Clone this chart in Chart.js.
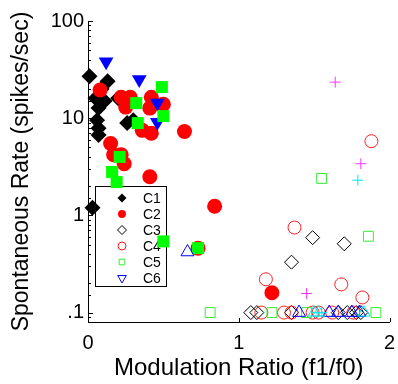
<!DOCTYPE html>
<html>
<head>
<meta charset="utf-8">
<script src="https://cdn.jsdelivr.net/npm/chart.js@4"></script>
<style>
  html, body { margin: 0; padding: 0; background: #fff; }
</style>
</head>
<body>
<canvas id="chart-1" width="398" height="384"></canvas>
<script>
// values (zeros were plotted at .1)
const c1X = [0.01, 0.13, 0.09, 0.05, 0.11, 0.20, 0.07, 0.06, 0.07, 0.07, 0.26, 0.30, 0.03];
const c1Y = [27, 24, 20, 16, 15, 16, 12.7, 9.5, 7.9, 6.7, 8.9, 9.5, 1.2];

const c2X = [0.08, 0.22, 0.25, 0.28, 0.42, 0.41, 0.50, 0.36, 0.42, 0.64, 0.15, 0.17, 0.22, 0.24, 0.41, 0.84, 1.22, 0.73];
const c2Y = [19.5, 16.4, 13, 16.4, 16.4, 12.7, 13.9, 7.5, 7.0, 7.3, 5.5, 4.2, 4.2, 3.4, 2.5, 1.24, 0.16, 0.46];

const c3X = [1.35, 1.49, 1.70, 1.08, 1.12, 1.35, 1.66, 1.72, 1.78, 1.81];
const c3Y = [0.33, 0.59, 0.51, 0.1, 0.1, 0.1, 0.1, 0.1, 0.1, 0.1];

const c4X = [1.18, 1.68, 1.82, 1.37, 1.88, 1.15, 1.30, 1.35, 1.49, 1.53, 1.62, 1.76];
const c4Y = [0.22, 0.195, 0.143, 0.75, 5.8, 0.1, 0.1, 0.1, 0.1, 0.1, 0.1, 0.1];

const c5X = [1.55, 1.86, 0.81, 1.22, 1.45, 1.91];
const c5Y = [2.4, 0.61, 0.1, 0.1, 0.1, 0.1];

const c6X = [];
const c6Y = [];

// extra marker groups that are not in the legend
const greenFillX = [0.49, 0.32, 0.50, 0.33, 0.21, 0.16, 0.19, 0.50, 0.73];
const greenFillY = [20.9, 14.3, 10.5, 8.9, 4.0, 2.8, 2.2, 0.54, 0.46];

const blueFillX = [0.12, 0.34, 0.46, 0.46];
const blueFillY = [38, 25, 14.3, 9.1];

const blueUpX = [0.66, 1.40, 1.60, 1.66, 1.75, 1.80];
const blueUpY = [0.42, 0.1, 0.1, 0.1, 0.1, 0.1];

const magentaX = [1.64, 1.81, 1.45];
const magentaY = [23.5, 3.4, 0.157];

const cyanPlusX = [1.79, 1.52, 1.55];
const cyanPlusY = [2.3, 0.1, 0.1];

const cyanUpX = [1.50, 1.53, 1.83];
const cyanUpY = [0.1, 0.1, 0.1];

const legendLabels = ['C1', 'C2', 'C3', 'C4', 'C5', 'C6'];
const xTickValues = [0, 1, 2];
const xTickLabels = ['0', '1', '2'];
const yTickValues = [0.1, 1, 10, 100];
const yTickLabels = ['.1', '1', '10', '100'];

function pts(xs, ys) {
  return xs.map((x, i) => ({ x: x, y: ys[i] }));
}

function series(label, xs, ys, style, color, filled, radius, rotation, order, inLegend) {
  return {
    label: label,
    data: pts(xs, ys),
    pointStyle: style,
    pointRadius: radius,
    pointHoverRadius: radius,
    pointRotation: rotation || 0,
    pointBackgroundColor: filled ? color : 'rgba(0,0,0,0)',
    pointBorderColor: color,
    pointBorderWidth: filled ? 0 : 1,
    showLine: false,
    clip: false,
    order: order,
    inLegend: inLegend
  };
}

Chart.defaults.font.family = "'Liberation Sans', Arial, sans-serif";
Chart.defaults.color = '#000';

// legend box drawn inside the axes, under the points
const boxLegend = {
  id: 'boxLegend',
  beforeDatasetsDraw(chart) {
    const ctx = chart.ctx;
    const left = 95, top = 186, w = 71, h = 100;
    ctx.save();
    ctx.fillStyle = '#fff';
    ctx.fillRect(left, top, w, h);
    ctx.strokeStyle = '#000';
    ctx.lineWidth = 1;
    ctx.strokeRect(left + 0.5, top + 0.5, w, h);
    ctx.font = "14px 'Liberation Sans', Arial, sans-serif";
    ctx.textBaseline = 'middle';
    ctx.textAlign = 'left';
    const sets = chart.data.datasets.filter(d => d.inLegend);
    sets.forEach((d, i) => {
      const y = top + 12 + i * 16;
      const filled = d.pointBorderWidth === 0;
      ctx.fillStyle = d.pointBackgroundColor;
      ctx.strokeStyle = d.pointBorderColor;
      ctx.lineWidth = 1;
      Chart.helpers.drawPoint(ctx, {
        pointStyle: d.pointStyle,
        radius: d.pointStyle === 'rectRot' ? 4.5 : (d.pointStyle === 'triangle' ? 5 : 4),
        rotation: d.pointRotation,
        borderWidth: filled ? 0 : 1
      }, left + 27, y);
      ctx.fillStyle = '#000';
      ctx.fillText(d.label, left + 48, y + 1);
    });
    ctx.restore();
  }
};

// inward tick marks like the original axes
const innerTicks = {
  id: 'innerTicks',
  afterDraw(chart) {
    const ctx = chart.ctx;
    const xs = chart.scales.x, ys = chart.scales.y;
    ctx.save();
    ctx.strokeStyle = '#000';
    ctx.lineWidth = 1;
    ctx.beginPath();
    ys.ticks.forEach(t => {
      const py = Math.round(ys.getPixelForValue(t.value)) + 0.5;
      const e = Math.log10(t.value);
      const len = Math.abs(e - Math.round(e)) < 1e-6 ? 5 : 3;
      ctx.moveTo(ys.right, py);
      ctx.lineTo(ys.right + len, py);
    });
    xs.ticks.forEach(t => {
      const px = Math.round(xs.getPixelForValue(t.value)) + 0.5;
      ctx.moveTo(px, xs.top);
      ctx.lineTo(px, xs.top - 4);
    });
    ctx.stroke();
    ctx.restore();
  }
};

const ctx1 = document.getElementById('chart-1').getContext('2d');

const myChart = new Chart(ctx1, {
  type: 'scatter',
  data: {
    datasets: [
      series(legendLabels[0], c1X, c1Y, 'rectRot', '#000000', true, 8, 0, 12, true),
      series(legendLabels[1], c2X, c2Y, 'circle', '#ff0000', true, 7.5, 0, 11, true),
      series(legendLabels[2], c3X, c3Y, 'rectRot', '#000000', false, 7, 0, 8, true),
      series(legendLabels[3], c4X, c4Y, 'circle', '#ff2020', false, 6.5, 0, 7, true),
      series(legendLabels[4], c5X, c5Y, 'rect', '#33ee33', false, 7, 0, 6, true),
      series(legendLabels[5], c6X, c6Y, 'triangle', '#0000ff', false, 7.5, 180, 5, true),
      series('green', greenFillX, greenFillY, 'rect', '#00ff00', true, 8.5, 0, 9, false),
      series('blue', blueFillX, blueFillY, 'triangle', '#0000ff', true, 8.5, 180, 10, false),
      series('blue open', blueUpX, blueUpY, 'triangle', '#0000ff', false, 7.5, 0, 4, false),
      series('magenta', magentaX, magentaY, 'cross', '#ff33ff', false, 5.5, 0, 3, false),
      series('cyan', cyanPlusX, cyanPlusY, 'cross', '#00eeee', false, 5.5, 0, 2, false),
      series('cyan open', cyanUpX, cyanUpY, 'triangle', '#00e5e5', false, 7, 0, 1, false)
    ]
  },
  options: {
    responsive: false,
    animation: false,
    layout: { padding: { top: 21, right: 7, left: 0, bottom: 0 } },
    plugins: {
      legend: { display: false },
      tooltip: { enabled: false }
    },
    scales: {
      x: {
        type: 'linear',
        min: 0,
        max: 2,
        afterBuildTicks: s => { s.ticks = xTickValues.map(v => ({ value: v })); },
        afterFit: s => { s.height = 62; s.paddingRight = 0; s.paddingLeft = 0; },
        grid: { display: false, drawTicks: false },
        border: { display: true, color: '#000', width: 1 },
        ticks: {
          padding: 9,
          font: { size: 20 },
          maxRotation: 0,
          autoSkip: false,
          callback: v => {
            const i = xTickValues.indexOf(v);
            return i >= 0 ? xTickLabels[i] : '';
          }
        },
        title: {
          display: true,
          text: 'Modulation Ratio (f1/f0)',
          font: { size: 24 },
          padding: { top: 0, bottom: 1 }
        }
      },
      y: {
        type: 'logarithmic',
        min: 0.08,
        max: 100,
        afterFit: s => { s.width = 88; },
        grid: { display: false, drawTicks: false },
        border: { display: true, color: '#000', width: 1 },
        ticks: {
          padding: 4,
          font: { size: 20 },
          autoSkip: false,
          callback: v => {
            const i = yTickValues.findIndex(t => Math.abs(Math.log10(t) - Math.log10(v)) < 1e-6);
            return i >= 0 ? yTickLabels[i] : '';
          }
        },
        title: {
          display: true,
          text: 'Spontaneous Rate (spikes/sec)',
          font: { size: 23 },
          padding: { top: 8, bottom: 0 }
        }
      }
    }
  },
  plugins: [boxLegend, innerTicks]
});
</script>
</body>
</html>
